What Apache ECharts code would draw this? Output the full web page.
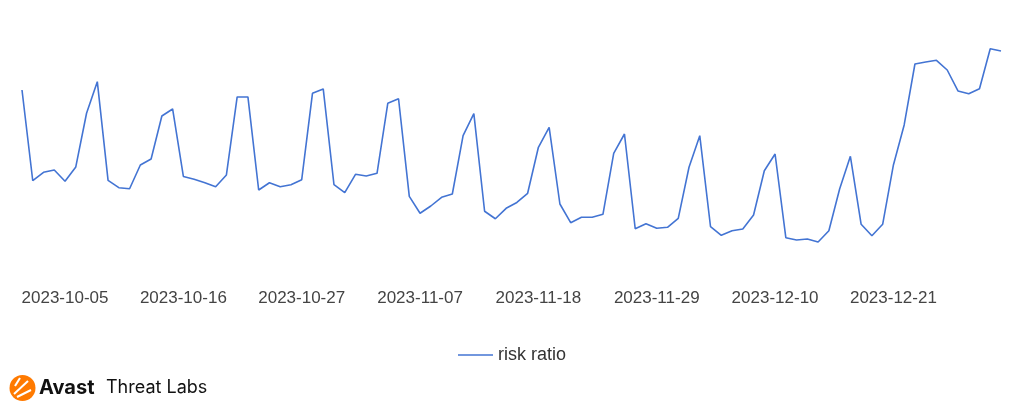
<!DOCTYPE html>
<html>
<head>
<meta charset="utf-8">
<script src="https://cdn.jsdelivr.net/npm/echarts@6/dist/echarts.min.js"></script>
<style>
html,body{margin:0;padding:0;background:#fff;}
#chart{width:1024px;height:404px;}
</style>
</head>
<body>
<div id="chart"></div>
<script>
// Dates: 2023-10-01 .. 2023-12-31
const startDate = '2023-10-01';
const dayCount = 92;
const seriesName = 'risk ratio';
const riskRatio = [
  23.75, 12.41, 13.46, 13.75, 12.34, 14.13, 20.84, 24.79, 12.46, 11.54,
  11.41, 14.38, 15.13, 20.50, 21.38, 12.94, 12.59, 12.16, 11.66, 13.13,
  22.88, 22.88, 11.25, 12.16, 11.66, 11.91, 12.54, 23.34, 23.88, 11.91,
  10.91, 13.21, 13.00, 13.34, 22.09, 22.66, 10.46, 8.34, 9.25, 10.34,
  10.75, 18.04, 20.79, 8.59, 7.66, 8.96, 9.69, 10.84, 16.59, 19.09,
  9.50, 7.16, 7.84, 7.84, 8.21, 15.84, 18.25, 6.41, 7.04, 6.46,
  6.59, 7.71, 14.09, 18.04, 6.66, 5.59, 6.16, 6.38, 8.13, 13.66,
  15.75, 5.29, 5.00, 5.13, 4.75, 6.16, 11.38, 15.46, 6.96, 5.54,
  6.96, 14.38, 19.38, 27.00, 27.25, 27.46, 26.25, 23.63, 23.29, 23.91,
  28.91, 28.63
];

function buildDates(start, n) {
  const out = [];
  const d = new Date(start + 'T00:00:00Z');
  for (let i = 0; i < n; i++) {
    const c = new Date(d.getTime() + i * 86400000);
    out.push(c.toISOString().slice(0, 10));
  }
  return out;
}
const dates = buildDates(startDate, dayCount);

const chart = echarts.init(document.getElementById('chart'), null, {renderer: 'canvas'});
chart.setOption({
  animation: false,
  backgroundColor: '#ffffff',
  grid: {left: 22, right: 23, top: 40, bottom: 124, containLabel: false},
  xAxis: {
    type: 'category',
    data: dates,
    boundaryGap: false,
    axisLine: {show: false},
    axisTick: {show: false},
    splitLine: {show: false},
    axisLabel: {
      interval: function (i) { return i % 11 === 4; },
      color: '#444',
      fontSize: 17,
      fontFamily: 'Liberation Sans, Arial, sans-serif',
      margin: 10
    }
  },
  yAxis: {
    type: 'value',
    min: 0,
    max: 30,
    show: false
  },
  legend: {
    data: [seriesName],
    left: 'center',
    top: 341,
    itemWidth: 35,
    itemHeight: 14,
    itemGap: 10,
    icon: 'path://M0,6.5 L35,6.5 L35,8 L0,8 Z',
    textStyle: {color: '#333', fontSize: 18, fontFamily: 'Liberation Sans, Arial, sans-serif'}
  },
  series: [{
    name: seriesName,
    type: 'line',
    data: riskRatio,
    showSymbol: false,
    symbol: 'none',
    lineStyle: {color: '#4374d3', width: 1.6},
    itemStyle: {color: '#4374d3'}
  }],
  graphic: [
    {type: 'circle', shape: {cx: 22.5, cy: 388, r: 13}, style: {fill: '#ff7a00'}},
    {type: 'polyline', shape: {points: [[14, 394], [28, 381]]}, style: {stroke: '#fff', lineWidth: 2, fill: null}},
    {type: 'polyline', shape: {points: [[17, 397], [31, 390]]}, style: {stroke: '#fff', lineWidth: 2, fill: null}},
    {type: 'polyline', shape: {points: [[20, 378], [15, 386]]}, style: {stroke: '#fff', lineWidth: 2, fill: null}},
    {type: 'text', left: 39, top: 378, style: {text: 'Avast', fill: '#111', font: 'bold 20px Inter, Roboto, sans-serif'}},
    {type: 'text', left: 106, top: 379, style: {text: 'Threat Labs', fill: '#111', font: '18px Inter, Roboto, sans-serif'}}
  ]
});
</script>
</body>
</html>
